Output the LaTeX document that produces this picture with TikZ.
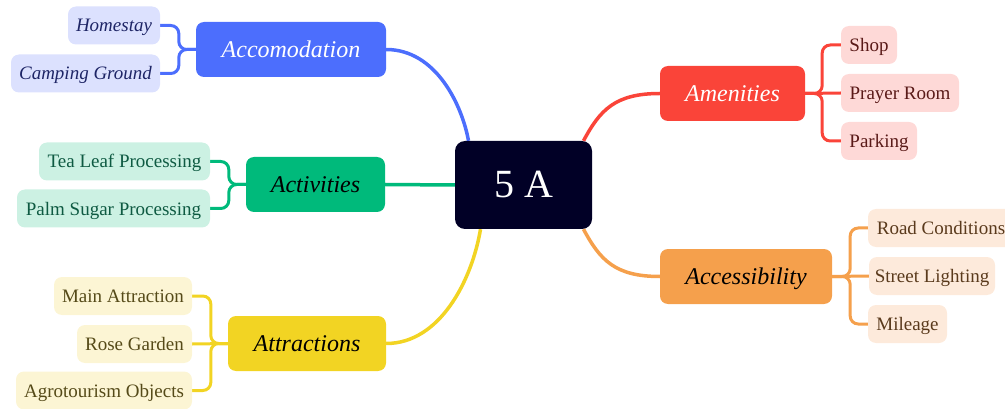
\documentclass[tikz,border=0pt]{standalone}
\usepackage{fontspec}
\setmainfont{Liberation Serif}
\usetikzlibrary{backgrounds,calc}
\definecolor{cdark}{HTML}{010026}
\definecolor{cblue}{HTML}{4C6EFD}
\definecolor{cbluel}{HTML}{DCE1FE}
\definecolor{cbluet}{HTML}{1E2566}
\definecolor{cgreen}{HTML}{00BA7B}
\definecolor{cgreenl}{HTML}{CCF1E3}
\definecolor{cgreent}{HTML}{0E5A42}
\definecolor{cyel}{HTML}{F2D423}
\definecolor{cyell}{HTML}{FCF5D4}
\definecolor{cyelt}{HTML}{554A18}
\definecolor{cred}{HTML}{FA4439}
\definecolor{credl}{HTML}{FED9D7}
\definecolor{credt}{HTML}{5A1A18}
\definecolor{cora}{HTML}{F5A04C}
\definecolor{coral}{HTML}{FDEADB}
\definecolor{corat}{HTML}{5A3A1C}
\begin{document}
\begin{tikzpicture}[x=1pt,y=-1pt,
  mainbox/.style={rounded corners=8pt, inner sep=0pt, minimum height=55pt, text height=16pt, text depth=0pt, font=\fontsize{24}{28}\selectfont\itshape},
  leaf/.style={rounded corners=8pt, inner sep=0pt, minimum height=38pt, text height=13pt, text depth=0pt, font=\fontsize{19}{22}\selectfont},
  link/.style={line width=3.5pt},
  brace/.style={line width=3pt, rounded corners=8pt}]
\useasboundingbox (0,0) rectangle (1005,409);
% centre
\node[fill=cdark, rounded corners=10pt, inner sep=0pt, minimum width=137pt, minimum height=88pt, text height=26pt, text depth=0pt, text=white, font=\fontsize{40}{44}\selectfont] (c) at (523.5,185) {5 A};
% Accomodation
\node[mainbox, fill=cblue, text=white, minimum width=190pt] (acc) at (291,49.5) {Accomodation};
\node[leaf, fill=cbluel, text=cbluet, minimum width=92pt, font=\fontsize{19}{22}\selectfont\itshape] (home) at (114,25.5) {Homestay};
\node[leaf, fill=cbluel, text=cbluet, minimum width=149pt, font=\fontsize{19}{22}\selectfont\itshape] (camp) at (85.5,73.5) {Camping Ground};
% Activities
\node[mainbox, fill=cgreen, text=black, minimum width=139pt] (act) at (315.5,184.5) {Activities};
\node[leaf, fill=cgreenl, text=cgreent, minimum width=171pt] (tea) at (124.5,161.5) {Tea Leaf Processing};
\node[leaf, fill=cgreenl, text=cgreent, minimum width=193pt] (palm) at (113.5,208.5) {Palm Sugar Processing};
% Attractions
\node[mainbox, fill=cyel, text=black, minimum width=158pt] (attr) at (307,343.5) {Attractions};
\node[leaf, fill=cyell, text=cyelt, minimum width=138pt] (mainat) at (123,296) {Main Attraction};
\node[leaf, fill=cyell, text=cyelt, minimum width=115pt] (rose) at (134.5,344) {Rose Garden};
\node[leaf, fill=cyell, text=cyelt, minimum width=176pt] (agro) at (104,390.5) {Agrotourism Objects};
% Amenities
\node[mainbox, fill=cred, text=white, minimum width=145pt] (amen) at (732.5,93.5) {Amenities};
\node[leaf, fill=credl, text=credt, minimum width=56pt] (shop) at (869,45) {Shop};
\node[leaf, fill=credl, text=credt, minimum width=118pt] (pray) at (900,93) {Prayer Room};
\node[leaf, fill=credl, text=credt, minimum width=76pt] (park) at (879,141) {Parking};
% Accessibility
\node[mainbox, fill=cora, text=black, minimum width=172pt] (accs) at (746,276.5) {Accessibility};
\node[leaf, fill=coral, text=corat, minimum width=146pt] (road) at (941,228) {Road Conditions};
\node[leaf, fill=coral, text=corat, minimum width=126pt] (street) at (932,276) {Street Lighting};
\node[leaf, fill=coral, text=corat, minimum width=79pt] (mile) at (907.5,324) {Mileage};
\begin{scope}[on background layer]
  \coordinate (bl) at ($(c.north)+(-55,0)$);
  \coordinate (rd) at ($(c.north)+(60,0)$);
  \coordinate (or) at ($(c.south)+(60,0)$);
  \coordinate (ye) at ($(c.south)+(-43,0)$);
  \draw[link, cblue] (acc.east) .. controls (436,49.5) and (462,105) .. (bl);
  \draw[link, cred] (rd) .. controls (600,110) and (615,93.5) .. (amen.west);
  \draw[link, cora] (or) .. controls (600,260) and (615,276.5) .. (accs.west);
  \draw[link, cyel] (attr.east) .. controls (440,343.5) and (472,280) .. (ye);
  \draw[link, cgreen] (act.east) -- (c.west);
  % brackets
  \draw[brace, cblue] (acc.west) -- ++(-17,0) |- (home.east);
  \draw[brace, cblue] (acc.west) -- ++(-17,0) |- (camp.east);
  \draw[brace, cgreen] (act.west) -- ++(-17,0) |- (tea.east);
  \draw[brace, cgreen] (act.west) -- ++(-17,0) |- (palm.east);
  \draw[brace, cyel] (attr.west) -- ++(-17,0) |- (mainat.east);
  \draw[brace, cyel] (attr.west) -- (rose.east);
  \draw[brace, cyel] (attr.west) -- ++(-17,0) |- (agro.east);
  \draw[brace, cred] (amen.east) -- ++(17,0) |- (shop.west);
  \draw[brace, cred] (amen.east) -- (pray.west);
  \draw[brace, cred] (amen.east) -- ++(17,0) |- (park.west);
  \draw[brace, cora] (accs.east) -- ++(18,0) |- (road.west);
  \draw[brace, cora] (accs.east) -- (street.west);
  \draw[brace, cora] (accs.east) -- ++(18,0) |- (mile.west);
\end{scope}
\end{tikzpicture}
\end{document}
